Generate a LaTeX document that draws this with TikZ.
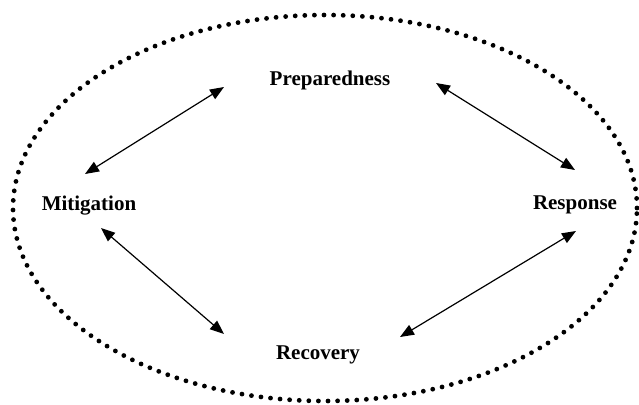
\documentclass[tikz,border=0pt]{standalone}
\usepackage{fontspec}
\setmainfont{Liberation Serif}
\usetikzlibrary{arrows.meta}

\tikzset{
  phase/.style={font=\fontsize{21}{25}\selectfont\bfseries, inner sep=0pt},
  twoway/.style={{Triangle[length=14pt,width=11pt]}-{Triangle[length=14pt,width=11pt]}, line width=1.2pt},
  ring/.style={line width=4.8pt, line cap=round, dash pattern=on 0pt off 9.6pt}
}

\begin{document}
\begin{tikzpicture}[x=1pt,y=-1pt]
	\useasboundingbox (0,0) rectangle (639,404);
	\draw[ring] (325,208) ellipse [x radius=312pt, y radius=193pt];

	\node[phase] (prep) at (330,80) {Preparedness};
	\node[phase] (mit) at (89,206) {Mitigation};
	\node[phase] (resp) at (575,205) {Response};
	\node[phase] (rec) at (318,355) {Recovery};

	\coordinate (mp1) at (85,174);
	\coordinate (mp2) at (224,87);
	\coordinate (pr1) at (436,83);
	\coordinate (pr2) at (575,170);
	\coordinate (mr1) at (101,228);
	\coordinate (mr2) at (224,334);
	\coordinate (rr1) at (400,337);
	\coordinate (rr2) at (576,231);

	\draw[twoway] (mp1) -- (mp2);
	\draw[twoway] (pr1) -- (pr2);
	\draw[twoway] (mr1) -- (mr2);
	\draw[twoway] (rr1) -- (rr2);
\end{tikzpicture}
\end{document}
